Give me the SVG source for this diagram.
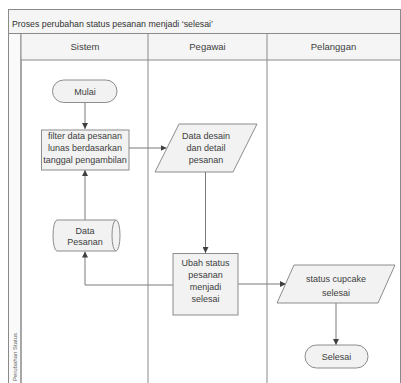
<svg xmlns="http://www.w3.org/2000/svg" width="401" height="383" viewBox="0 0 401 383">
<defs>
<style>
.frame{fill:none;stroke:#8a8a8a;stroke-width:1}
.band{fill:#f5f5f5;stroke:#8a8a8a;stroke-width:1}
.shape{fill:#f2f2f2;stroke:#8c8c8c;stroke-width:1}
.conn{fill:none;stroke:#7a7a7a;stroke-width:1}
text{font-family:"Liberation Sans",Arial,sans-serif;font-size:9px;fill:#404040;text-anchor:middle}
.title{text-anchor:start;font-size:8.8px;fill:#333}
.hdr{font-size:9.5px;fill:#404040}
.pool{font-size:6px;fill:#666}
</style>
<marker id="arr" viewBox="0 0 6 6" refX="6" refY="3" markerWidth="6" markerHeight="6" markerUnits="userSpaceOnUse" orient="auto">
<path d="M0,0 L6,3 L0,6 Z" fill="#404040"/>
</marker>
</defs>
<rect x="0" y="0" width="401" height="383" fill="#ffffff"/>
<g id="pool">
<rect class="band" x="8.5" y="9.5" width="392" height="24"/>
<text class="title" x="12" y="27">Proses perubahan status pesanan menjadi ‘selesai’</text>
<rect fill="#fafafa" x="8.5" y="33.5" width="12.5" height="352" stroke="#8a8a8a"/>
<rect class="band" x="21" y="33.5" width="379.5" height="26.5" fill="#f7f7f7"/>
<line class="frame" x1="21" y1="60" x2="21" y2="384"/>
<line class="frame" x1="148" y1="33.5" x2="148" y2="384"/>
<line class="frame" x1="267" y1="33.5" x2="267" y2="384"/>
<line class="frame" x1="400.5" y1="9.5" x2="400.5" y2="384"/>
<text class="hdr" x="85" y="50">Sistem</text>
<text class="hdr" x="207.5" y="50">Pegawai</text>
<text class="hdr" x="333.5" y="50">Pelanggan</text>
<text class="pool" transform="translate(17,357) rotate(-90)">Perubahan Status</text>
</g>
<g id="connectors">
<path class="conn" d="M85 102 V129" marker-end="url(#arr)"/>
<path class="conn" d="M129 148 H166.5" marker-end="url(#arr)"/>
<path class="conn" d="M205.5 172 V253" marker-end="url(#arr)"/>
<path class="conn" d="M85 220 V170" marker-end="url(#arr)"/>
<path class="conn" d="M173 285 H85 V251.5" marker-end="url(#arr)"/>
<path class="conn" d="M238 284 H286" marker-end="url(#arr)"/>
<path class="conn" d="M336 303 V345" marker-end="url(#arr)"/>
</g>
<g id="mulai">
<rect class="shape" x="52.5" y="80" width="64.5" height="22.5" rx="11.25"/>
<text x="85" y="94.5">Mulai</text>
</g>
<g id="filter">
<rect class="shape" x="41.5" y="130" width="87.5" height="40"/>
<text x="85" y="139">filter data pesanan</text>
<text x="85" y="151">lunas berdasarkan</text>
<text x="85" y="163">tanggal pengambilan</text>
</g>
<g id="data-desain">
<path class="shape" d="M179 124 H257 L233 172 H155 Z"/>
<text x="206" y="139">Data desain</text>
<text x="206" y="151">dan detail</text>
<text x="206" y="163">pesanan</text>
</g>
<g id="data-pesanan">
<path class="shape" d="M57 220 H116 A4 15.5 0 0 1 116 251 H57 A4 15.5 0 0 1 57 220 Z"/>
<path class="shape" fill="none" d="M116 220 A4 15.5 0 0 0 116 251"/>
<text x="85" y="234">Data</text>
<text x="85" y="245">Pesanan</text>
</g>
<g id="ubah-status">
<rect class="shape" x="173" y="253.5" width="65" height="61.5"/>
<text x="205.5" y="266">Ubah status</text>
<text x="205.5" y="278">pesanan</text>
<text x="205.5" y="290">menjadi</text>
<text x="205.5" y="302">selesai</text>
</g>
<g id="status-cupcake">
<path class="shape" d="M294 265 H395 L378 303 H277 Z"/>
<text x="336" y="282">status cupcake</text>
<text x="336" y="296">selesai</text>
</g>
<g id="selesai">
<rect class="shape" x="305" y="345" width="63" height="23" rx="11.5"/>
<text x="336.5" y="360">Selesai</text>
</g>
</svg>
